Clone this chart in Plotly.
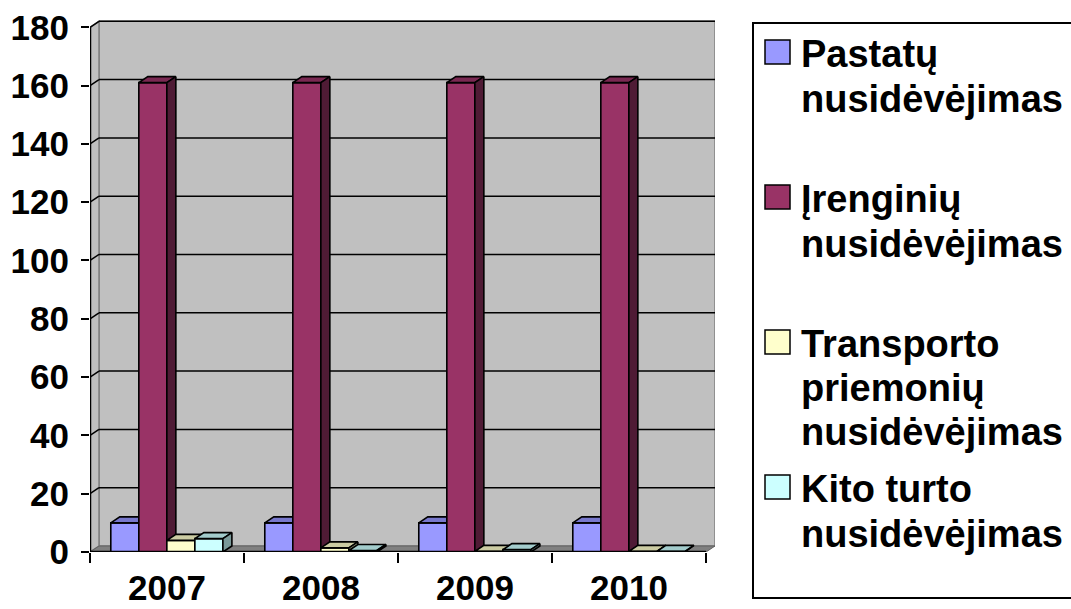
import plotly.graph_objects as go

# ---------------- data ----------------
years = ["2007", "2008", "2009", "2010"]
series_names = [
    "Pastatų nusidėvėjimas",
    "Įrenginių nusidėvėjimas",
    "Transporto priemonių nusidėvėjimas",
    "Kito turto nusidėvėjimas",
]
legend_lines = [
    ["Pastatų", "nusidėvėjimas"],
    ["Įrenginių", "nusidėvėjimas"],
    ["Transporto", "priemonių", "nusidėvėjimas"],
    ["Kito turto", "nusidėvėjimas"],
]
pastatu = [10, 10, 10, 10]
irenginiu = [161, 161, 161, 161]
transporto = [4, 1.4, 0.2, 0.2]
kito = [4.6, 0.5, 0.8, 0.2]
y_ticks = [0, 20, 40, 60, 80, 100, 120, 140, 160, 180]

values = [pastatu, irenginiu, transporto, kito]

# ---------------- style ----------------
front_colors = ["#9999FF", "#993366", "#FFFFCC", "#CCFFFF"]
top_colors = ["#7878CC", "#7A2952", "#CCCCA3", "#A3CCCC"]
side_colors = ["#5C5C99", "#4F1B35", "#99997A", "#7A9999"]

FONT = "Liberation Sans, Arial, sans-serif"
FS_Y = 35
FS_X = 35
FS_LEG = 38

# plot area in pixels
L, R, T, B = 90, 715, 20, 552
W_PX, H_PX = 1071, 609
X_MIN = -0.5
PX_PER_CAT = 154.0
DX = 9 / PX_PER_CAT          # depth offset in category units
Y_MAX = 182.5
PX_PER_UNIT = (B - T) / Y_MAX
DY = 6 / PX_PER_UNIT         # depth offset in value units
X_MAX = X_MIN + (R - L) / PX_PER_CAT

BAR_W = 0.182
GROUP_START = -0.365


def px2paper_x(px):
    return (px - L) / (R - L)


def px2paper_y(py):
    return (B - py) / (B - T)


fig = go.Figure()

# ---------------- 3D bars as polygons ----------------
for si, vals in enumerate(values):
    fx, fy, tx, ty, sx, sy = [], [], [], [], [], []
    for ci, v in enumerate(vals):
        x0 = ci + GROUP_START + si * BAR_W
        x1 = x0 + BAR_W
        fx += [x0, x1, x1, x0, x0, None]
        fy += [0, 0, v, v, 0, None]
        tx += [x0, x1, x1 + DX, x0 + DX, x0, None]
        ty += [v, v, v + DY, v + DY, v, None]
        sx += [x1, x1 + DX, x1 + DX, x1, x1, None]
        sy += [0, DY, v + DY, v, 0, None]
    for xs, ys, col in ((fx, fy, front_colors[si]), (tx, ty, top_colors[si]), (sx, sy, side_colors[si])):
        fig.add_trace(go.Scatter(
            x=xs, y=ys, mode="lines", fill="toself", fillcolor=col,
            line=dict(color="black", width=1.6), name=series_names[si],
            showlegend=False, hoverinfo="skip"))

shapes = []
# back wall
shapes.append(dict(type="rect", xref="x", yref="y", x0=X_MIN + DX, x1=X_MAX,
                   y0=DY, y1=180 + DY, fillcolor="#C0C0C0",
                   line=dict(color="#808080", width=1.5), layer="below"))
# left wall
shapes.append(dict(type="path", xref="x", yref="y",
                   path=f"M {X_MIN},0 L {X_MIN},180 L {X_MIN + DX},{180 + DY} L {X_MIN + DX},{DY} Z",
                   fillcolor="#C0C0C0", line=dict(color="#808080", width=1.5), layer="below"))
# floor
shapes.append(dict(type="path", xref="x", yref="y",
                   path=f"M {X_MIN},0 L {X_MIN + 4},0 L {X_MAX},{DY} L {X_MIN + DX},{DY} Z",
                   fillcolor="#808080", line=dict(color="#606060", width=1), layer="below"))
# gridlines on back and left wall
for v in y_ticks[1:]:
    shapes.append(dict(type="line", xref="x", yref="y", x0=X_MIN + DX, x1=X_MAX,
                       y0=v + DY, y1=v + DY, line=dict(color="black", width=1.5), layer="below"))
    shapes.append(dict(type="line", xref="x", yref="y", x0=X_MIN, x1=X_MIN + DX,
                       y0=v, y1=v + DY, line=dict(color="black", width=1.5), layer="below"))
# axis lines
shapes.append(dict(type="line", xref="x", yref="y", x0=X_MIN, x1=X_MIN + 4, y0=0, y1=0,
                   line=dict(color="black", width=2.5)))
shapes.append(dict(type="line", xref="x", yref="y", x0=X_MIN, x1=X_MIN, y0=0, y1=180,
                   line=dict(color="black", width=2.5)))

# legend box
shapes.append(dict(type="rect", xref="paper", yref="paper",
                   x0=px2paper_x(753), x1=px2paper_x(1080),
                   y0=px2paper_y(598), y1=px2paper_y(23),
                   line=dict(color="black", width=2), fillcolor="rgba(0,0,0,0)"))

annotations = []
line_centers = [[52, 97], [197, 242], [342, 386, 430], [487, 532]]
for i, lines in enumerate(legend_lines):
    c = line_centers[i][0]
    shapes.append(dict(type="rect", xref="paper", yref="paper",
                       x0=px2paper_x(765), x1=px2paper_x(790),
                       y0=px2paper_y(c + 12), y1=px2paper_y(c - 12),
                       fillcolor=front_colors[i], line=dict(color="black", width=1.5)))
    for txt, cy in zip(lines, line_centers[i]):
        annotations.append(dict(
            xref="paper", yref="paper", x=px2paper_x(800), y=px2paper_y(cy + 2),
            xanchor="left", yanchor="middle", align="left", showarrow=False,
            text=txt, borderpad=0,
            font=dict(family=FONT, size=FS_LEG, color="black", weight="bold")))

fig.update_layout(
    width=W_PX, height=H_PX,
    margin=dict(l=L, r=W_PX - R, t=T, b=H_PX - B, pad=0),
    paper_bgcolor="white", plot_bgcolor="white",
    showlegend=False,
    shapes=shapes, annotations=annotations,
    xaxis=dict(range=[X_MIN, X_MAX], tickmode="array", tickvals=[0, 1, 2, 3], ticktext=years,
               ticks="", showgrid=False, zeroline=False, showline=False,
               ticklabelstandoff=12, automargin=False,
               tickfont=dict(family=FONT, size=FS_X, color="black", weight="bold"),
               minor=dict(tickmode="array", tickvals=[-0.5, 0.5, 1.5, 2.5, 3.5],
                          ticks="outside", ticklen=10, tickwidth=2, tickcolor="black",
                          showgrid=False),
               fixedrange=True),
    yaxis=dict(range=[0, Y_MAX], tickmode="array", tickvals=y_ticks,
               ticks="outside", ticklen=8, tickwidth=2, tickcolor="black",
               showgrid=False, zeroline=False, showline=False, automargin=False,
               ticklabelstandoff=5,
               tickfont=dict(family=FONT, size=FS_Y, color="black", weight="bold"),
               fixedrange=True),
)

fig.write_html("out.html", config={"displayModeBar": False},
               post_script="document.body.style.margin='0';document.body.style.overflow='hidden';")
